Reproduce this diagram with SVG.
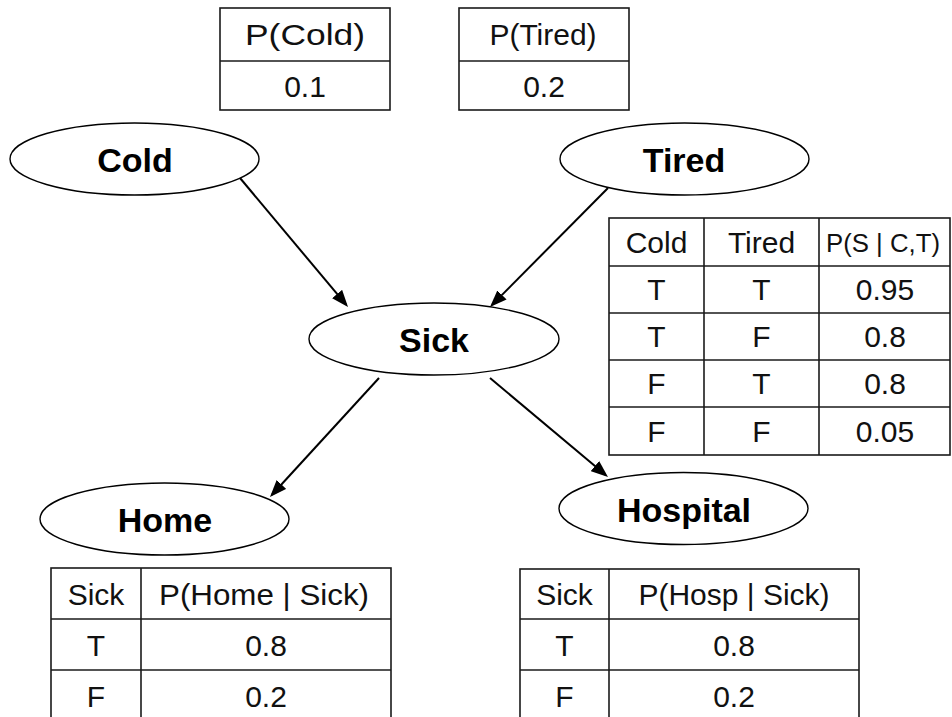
<svg xmlns="http://www.w3.org/2000/svg" width="952" height="717" viewBox="0 0 952 717">
  <style>
    .node { fill: #ffffff; stroke: #000000; stroke-width: 1.4; }
    .label { font-family: "Liberation Sans", Arial, sans-serif; font-weight: bold; font-size: 34px; text-anchor: middle; fill: #000000; }
    .grid { fill: none; stroke: #1a1a1a; stroke-width: 1.6; }
    .cell { font-family: "Liberation Sans", Arial, sans-serif; font-size: 30px; text-anchor: middle; fill: #111111; }
    .cell.small { font-size: 26px; }
    .edge { stroke: #000000; stroke-width: 2; fill: none; marker-end: url(#arrow); }
  </style>
  <defs>
    <marker id="arrow" markerUnits="userSpaceOnUse" markerWidth="17" markerHeight="13" refX="14" refY="6.5" orient="auto">
      <path d="M0,0 L17,6.5 L0,13 z" fill="#000000"/>
    </marker>
  </defs>

  <rect width="952" height="717" fill="#ffffff"/>

  <!-- prior tables -->
  <g id="table-cold">
    <rect class="grid" x="220" y="8" width="170" height="102"/>
    <line class="grid" x1="220" y1="61" x2="390" y2="61"/>
    <text class="cell" x="305" y="45" textLength="120" lengthAdjust="spacingAndGlyphs">P(Cold)</text>
    <text class="cell" x="305" y="96.5">0.1</text>
  </g>
  <g id="table-tired">
    <rect class="grid" x="459" y="8" width="170" height="102"/>
    <line class="grid" x1="459" y1="61" x2="629" y2="61"/>
    <text class="cell" x="543" y="45">P(Tired)</text>
    <text class="cell" x="544" y="96.5">0.2</text>
  </g>

  <!-- connectors -->
  <g id="edges">
    <line class="edge" x1="240" y1="178" x2="346.1" y2="304.7"/>
    <line class="edge" x1="608" y1="188" x2="492.1" y2="304.9"/>
    <line class="edge" x1="379" y1="378" x2="272" y2="494.8"/>
    <line class="edge" x1="490" y1="378" x2="605.7" y2="475.1"/>
  </g>

  <!-- nodes -->
  <g id="node-cold">
    <ellipse class="node" cx="134.5" cy="159" rx="124.5" ry="36"/>
    <text class="label" x="135" y="172">Cold</text>
  </g>
  <g id="node-tired">
    <ellipse class="node" cx="684.5" cy="159" rx="124.5" ry="36"/>
    <text class="label" x="684" y="172">Tired</text>
  </g>
  <g id="node-sick">
    <ellipse class="node" cx="434" cy="339" rx="125" ry="36"/>
    <text class="label" x="434" y="352">Sick</text>
  </g>
  <g id="node-home">
    <ellipse class="node" cx="164.5" cy="519" rx="124.5" ry="36"/>
    <text class="label" x="165" y="532">Home</text>
  </g>
  <g id="node-hospital">
    <ellipse class="node" cx="683.5" cy="508.5" rx="124.5" ry="36"/>
    <text class="label" x="684" y="522">Hospital</text>
  </g>

  <!-- conditional table for Sick -->
  <g id="table-sick">
    <rect class="grid" x="609" y="218" width="341" height="237"/>
    <line class="grid" x1="609" y1="266" x2="950" y2="266"/>
    <line class="grid" x1="609" y1="313" x2="950" y2="313"/>
    <line class="grid" x1="609" y1="360" x2="950" y2="360"/>
    <line class="grid" x1="609" y1="407" x2="950" y2="407"/>
    <line class="grid" x1="704" y1="218" x2="704" y2="455"/>
    <line class="grid" x1="819" y1="218" x2="819" y2="455"/>
    <text class="cell" x="656.5" y="253">Cold</text>
    <text class="cell" x="761.5" y="253">Tired</text>
    <text class="cell small" x="883" y="252" textLength="114" lengthAdjust="spacingAndGlyphs">P(S | C,T)</text>
    <text class="cell" x="656.5" y="300">T</text>
    <text class="cell" x="761.5" y="300">T</text>
    <text class="cell" x="885" y="300">0.95</text>
    <text class="cell" x="656.5" y="347">T</text>
    <text class="cell" x="761.5" y="347">F</text>
    <text class="cell" x="885" y="347">0.8</text>
    <text class="cell" x="656.5" y="394">F</text>
    <text class="cell" x="761.5" y="394">T</text>
    <text class="cell" x="885" y="394">0.8</text>
    <text class="cell" x="656.5" y="442">F</text>
    <text class="cell" x="761.5" y="442">F</text>
    <text class="cell" x="885" y="442">0.05</text>
  </g>

  <!-- conditional table for Home -->
  <g id="table-home">
    <rect class="grid" x="51" y="568" width="340" height="160"/>
    <line class="grid" x1="51" y1="619" x2="391" y2="619"/>
    <line class="grid" x1="51" y1="670" x2="391" y2="670"/>
    <line class="grid" x1="141" y1="568" x2="141" y2="728"/>
    <text class="cell" x="96" y="605">Sick</text>
    <text class="cell" x="264" y="605" textLength="210" lengthAdjust="spacingAndGlyphs">P(Home | Sick)</text>
    <text class="cell" x="96" y="656">T</text>
    <text class="cell" x="266" y="656">0.8</text>
    <text class="cell" x="96" y="707">F</text>
    <text class="cell" x="266" y="707">0.2</text>
  </g>

  <!-- conditional table for Hospital -->
  <g id="table-hospital">
    <rect class="grid" x="520" y="569" width="339" height="160"/>
    <line class="grid" x1="520" y1="619" x2="859" y2="619"/>
    <line class="grid" x1="520" y1="670" x2="859" y2="670"/>
    <line class="grid" x1="609" y1="569" x2="609" y2="729"/>
    <text class="cell" x="564.5" y="605">Sick</text>
    <text class="cell" x="734" y="605">P(Hosp | Sick)</text>
    <text class="cell" x="564.5" y="656">T</text>
    <text class="cell" x="734" y="656">0.8</text>
    <text class="cell" x="564.5" y="707">F</text>
    <text class="cell" x="734" y="707">0.2</text>
  </g>
</svg>
